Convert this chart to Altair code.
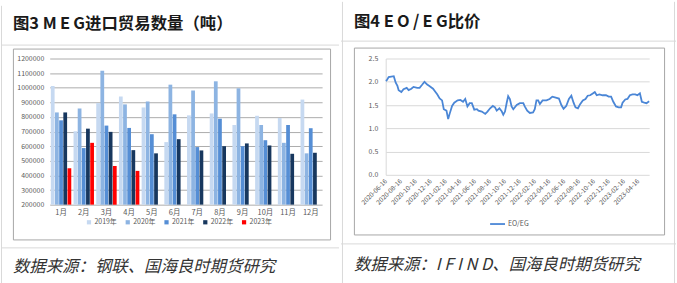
import altair as alt
import pandas as pd

# ---------------- data ----------------
months = ["1月", "2月", "3月", "4月", "5月", "6月", "7月", "8月", "9月", "10月", "11月", "12月"]
years = ["2019年", "2020年", "2021年", "2022年", "2023年"]
v2019 = [1012000, 702000, 895000, 940000, 865000, 628000, 811000, 824000, 745000, 808000, 793000, 919000]
v2020 = [831000, 858000, 1116000, 886000, 906000, 1021000, 981000, 1044000, 996000, 745000, 623000, 551000]
v2021 = [777000, 587000, 741000, 725000, 682000, 818000, 594000, 788000, 600000, 641000, 745000, 723000]
v2022 = [831000, 720000, 698000, 573000, 551000, 648000, 571000, 600000, 619000, 605000, 548000, 555000]
v2023 = [449000, 623000, 465000, 431000]
bar_colors = ["#C6D9F1", "#8DB4E2", "#558ED5", "#17375E", "#FF0000"]

eo_dates = [
    "2020-06-16", "2020-06-20", "2020-06-28", "2020-07-19", "2020-07-27", "2020-08-03", "2020-08-08",
    "2020-08-19", "2020-08-28", "2020-09-10", "2020-09-18", "2020-09-29", "2020-10-08", "2020-10-23",
    "2020-11-02", "2020-11-13", "2020-11-22", "2020-12-03", "2020-12-12", "2020-12-27", "2021-01-06",
    "2021-01-13", "2021-01-23", "2021-02-02", "2021-02-09", "2021-02-20", "2021-02-27", "2021-03-05",
    "2021-03-15", "2021-03-24", "2021-04-07", "2021-04-18", "2021-04-29", "2021-05-08", "2021-05-17",
    "2021-05-26", "2021-06-04", "2021-06-14", "2021-06-25", "2021-07-01", "2021-07-15", "2021-07-29",
    "2021-08-07", "2021-08-18", "2021-08-29", "2021-09-07", "2021-09-14", "2021-09-25", "2021-10-05",
    "2021-10-11", "2021-10-18", "2021-10-25", "2021-10-31", "2021-11-07", "2021-11-14", "2021-11-21",
    "2021-12-05", "2021-12-18", "2022-01-01", "2022-01-07", "2022-01-17", "2022-01-28", "2022-02-10",
    "2022-02-17", "2022-02-24", "2022-03-03", "2022-03-10", "2022-03-21", "2022-04-06", "2022-04-19",
    "2022-04-30", "2022-05-14", "2022-05-27", "2022-06-06", "2022-06-15", "2022-06-26", "2022-07-07",
    "2022-07-17", "2022-07-26", "2022-08-03", "2022-08-13", "2022-08-22", "2022-09-02", "2022-09-13",
    "2022-09-22", "2022-10-02", "2022-10-13", "2022-10-21", "2022-10-29", "2022-11-09", "2022-11-22",
    "2022-12-06", "2022-12-17", "2022-12-27", "2023-01-05", "2023-01-16", "2023-01-27", "2023-02-06",
    "2023-02-12", "2023-02-23", "2023-03-04", "2023-03-14", "2023-03-25", "2023-04-05", "2023-04-14",
    "2023-04-24", "2023-05-02", "2023-05-12", "2023-05-21", "2023-06-01",
]
eo_ratio = [
    2.02, 2.03, 2.10, 2.12, 1.98, 1.91, 1.82,
    1.78, 1.84, 1.87, 1.82, 1.85, 1.89, 1.87,
    1.87, 1.94, 2.00, 1.94, 1.91, 1.85, 1.78,
    1.73, 1.64, 1.60, 1.41, 1.38, 1.20, 1.31,
    1.48, 1.55, 1.60, 1.61, 1.57, 1.63, 1.47,
    1.54, 1.54, 1.40, 1.41, 1.38, 1.36, 1.31,
    1.36, 1.43, 1.48, 1.45, 1.38, 1.43, 1.36,
    1.29, 1.36, 1.55, 1.69, 1.63, 1.47, 1.41,
    1.50, 1.54, 1.54, 1.47, 1.38, 1.33, 1.34,
    1.41, 1.60, 1.60, 1.52, 1.60, 1.60, 1.63,
    1.68, 1.66, 1.64, 1.50, 1.42, 1.48, 1.63,
    1.70, 1.55, 1.45, 1.43, 1.52, 1.60, 1.63,
    1.70, 1.71, 1.75, 1.78, 1.71, 1.73, 1.71,
    1.71, 1.68, 1.68, 1.57, 1.47, 1.45, 1.45,
    1.55, 1.62, 1.63, 1.71, 1.73, 1.73, 1.71,
    1.75, 1.57, 1.55, 1.54, 1.58,
]
tick_months = [(2020, 6), (2020, 8), (2020, 10), (2020, 12), (2021, 2), (2021, 4), (2021, 6), (2021, 8),
               (2021, 10), (2021, 12), (2022, 2), (2022, 4), (2022, 6), (2022, 8), (2022, 10), (2022, 12),
               (2023, 2), (2023, 4)]

left_title = "图3 M\u2009E\u2009G进口贸易数量（吨）"
right_title = "图4 E\u2009O\u2009/\u2009E\u2009G比价"
left_source = "数据来源：钢联、国海良时期货研究"
right_source = "数据来源：I F I N D、国海良时期货研究"

# ---------------- tables ----------------
rows = []
for yr, vals in zip(years, [v2019, v2020, v2021, v2022, v2023]):
    for m, v in zip(months, vals):
        rows.append({"month": m, "year": yr, "value": v})
bar_df = pd.DataFrame(rows)
line_df = pd.DataFrame({"date": eo_dates, "ratio": eo_ratio, "series": "EO/EG"})
one = pd.DataFrame({"k": [0]})

FONT = "Noto Sans CJK SC"
LINE_GRAY = "#D9D9D9"
BOX_GRAY = "#A6A6A6"


def bounds(x1, x2, y1, y2):
    return alt.Chart(one).mark_rect(fill="white", fillOpacity=0, strokeOpacity=0).encode(
        x=alt.value(x1), x2=alt.value(x2), y=alt.value(y1), y2=alt.value(y2))


def hrule(x1, x2, y, color=LINE_GRAY):
    return alt.Chart(one).mark_rule(color=color, strokeWidth=1).encode(
        x=alt.value(x1), x2=alt.value(x2), y=alt.value(y))


def vrule(x, y1, y2, color=LINE_GRAY):
    return alt.Chart(one).mark_rule(color=color, strokeWidth=1).encode(
        x=alt.value(x), y=alt.value(y1), y2=alt.value(y2))


def box(x1, x2, y1, y2, color=BOX_GRAY):
    return alt.Chart(one).mark_rect(fill="white", fillOpacity=0, stroke=color, strokeWidth=1).encode(
        x=alt.value(x1), x2=alt.value(x2), y=alt.value(y1), y2=alt.value(y2))


def label(x, y, txt, size, weight="normal", style="normal", color="#1A1A1A"):
    return alt.Chart(one).mark_text(align="left", baseline="middle", font=FONT, fontSize=size,
                                    fontWeight=weight, fontStyle=style, color=color).encode(
        x=alt.value(x), y=alt.value(y), text=alt.value(txt))


# ---------------- left panel ----------------
W1, H1 = 274, 147
OX1, OY1 = 49, 53

bars = alt.Chart(bar_df).mark_bar().encode(
    x=alt.X("month:N", sort=months,
            scale=alt.Scale(paddingInner=0.1, paddingOuter=0.05),
            axis=alt.Axis(title=None, labelAngle=0, labelFontSize=7.5, labelColor="#595959",
                          labelFont=FONT, ticks=False, domain=False, grid=False, labelPadding=4)),
    xOffset=alt.XOffset("year:N", sort=years, scale=alt.Scale(paddingInner=0.1)),
    y=alt.Y("value:Q", scale=alt.Scale(domain=[200000, 1200000], nice=False),
            axis=alt.Axis(title=None, values=list(range(200000, 1200001, 100000)), format="d",
                          labelFontSize=7, labelColor="#595959", labelFont=FONT,
                          grid=True, gridColor="#ABABAB", gridWidth=1, domain=False, ticks=False,
                          labelPadding=6)),
    y2=alt.datum(200000),
    color=alt.Color("year:N", sort=years, scale=alt.Scale(domain=years, range=bar_colors),
                    legend=alt.Legend(title=None, orient="none", legendX=36, legendY=161,
                                      direction="horizontal", symbolType="square", symbolSize=18,
                                      symbolStrokeWidth=0, labelFontSize=7, labelColor="#595959",
                                      labelFont=FONT, columnPadding=7, labelOffset=2, padding=0)),
)

left = alt.layer(
    bounds(-OX1, 340 - OX1, -OY1, 283 - OY1),
    vrule(0.5 - OX1, -OY1, 283 - OY1),
    hrule(-OX1, 340 - OX1, 39.5 - OY1),
    hrule(-OX1, 340 - OX1, 243.5 - OY1),
    box(12.5 - OX1, 331.5 - OX1, 43.5 - OY1, 235.5 - OY1),
    label(12 - OX1, 18 - OY1, left_title, 16.5, weight="bold"),
    label(12 - OX1, 263 - OY1, left_source, 16.5, style="italic", color="#333333"),
    bars,
).properties(width=W1, height=H1)

# ---------------- right panel ----------------
W2, H2 = 265, 117
OX2, OY2 = 385, 57

line = alt.Chart(line_df).mark_line(strokeWidth=1.8).encode(
    x=alt.X("date:T",
            scale=alt.Scale(type="utc", domain=[alt.DateTime(year=2020, month=6, date=16, utc=True),
                                                alt.DateTime(year=2023, month=6, date=1, utc=True)]),
            axis=alt.Axis(title=None, values=[alt.DateTime(year=y, month=m, date=16, utc=True) for y, m in tick_months],
                          labelExpr="utcFormat(datum.value, '%Y-%m-%d')", labelAngle=-45, labelAlign="right",
                          labelBaseline="middle", labelFontSize=6.5, labelColor="#595959", labelFont=FONT,
                          grid=False, ticks=False, domain=False, labelPadding=5, labelOverlap=False,
                          labelFlush=False)),
    y=alt.Y("ratio:Q", scale=alt.Scale(domain=[0, 2.5], nice=False),
            axis=alt.Axis(title=None, values=[0, 0.5, 1, 1.5, 2, 2.5], labelFontSize=7,
                          labelColor="#595959", labelFont=FONT, grid=True, gridColor=LINE_GRAY,
                          domain=True, domainColor=LINE_GRAY, ticks=False, labelPadding=8)),
    color=alt.Color("series:N", scale=alt.Scale(range=["#4A86D6"]),
                    legend=alt.Legend(title=None, orient="none", legendX=104, legendY=158,
                                      symbolType="stroke", symbolSize=225, symbolStrokeWidth=1.8,
                                      labelFontSize=7, labelColor="#595959", labelFont=FONT,
                                      labelOffset=2, padding=0)),
)

right = alt.layer(
    bounds(340 - OX2, 677 - OX2, -OY2, 283 - OY2),
    vrule(341.5 - OX2, -OY2, 283 - OY2),
    vrule(675.5 - OX2, -OY2, 283 - OY2),
    hrule(340 - OX2, 677 - OX2, 39.5 - OY2),
    hrule(340 - OX2, 677 - OX2, 243.5 - OY2),
    box(353.5 - OX2, 665.5 - OX2, 46.5 - OY2, 234.5 - OY2),
    label(353 - OX2, 20 - OY2, right_title, 16.5, weight="bold"),
    label(353 - OX2, 265 - OY2, right_source, 16.5, style="italic", color="#333333"),
    line,
).properties(width=W2, height=H2)

chart = alt.hconcat(left, right, spacing=0).resolve_scale(
    x="independent", y="independent", color="independent"
).properties(padding=0, background="white").configure_view(stroke=None)

chart.save("out.html", embed_options={"renderer": "svg", "actions": False})
